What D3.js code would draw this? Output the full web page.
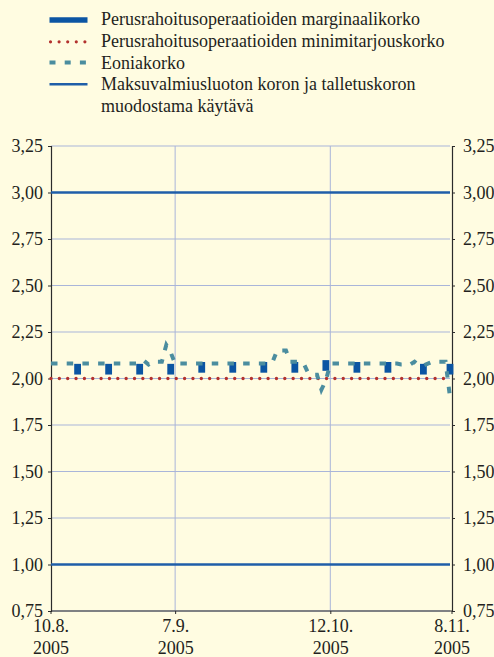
<!DOCTYPE html>
<html>
<head>
<meta charset="utf-8">
<script src="https://cdn.jsdelivr.net/npm/d3@7"></script>
<style>
  html, body { margin: 0; padding: 0; background: #fffce1; }
  svg { display: block; }
</style>
</head>
<body>
<svg id="chart" width="494" height="657"></svg>
<script>
// ---------------- DATA ----------------
const legendLabels = [
  "Perusrahoitusoperaatioiden marginaalikorko",
  "Perusrahoitusoperaatioiden minimitarjouskorko",
  "Eoniakorko",
  "Maksuvalmiusluoton koron ja talletuskoron",
  "muodostama käytävä"
];
const startDate = "2005-08-10";
const endDate = "2005-11-08";
const xTickDates = ["2005-08-10", "2005-09-07", "2005-10-12", "2005-11-08"];
const xTickLabels = [["10.8.", "2005"], ["7.9.", "2005"], ["12.10.", "2005"], ["8.11.", "2005"]];
const yTicks = [0.75, 1.00, 1.25, 1.50, 1.75, 2.00, 2.25, 2.50, 2.75, 3.00, 3.25];

// Main refinancing operations: marginal rate (weekly)
const mroDates = ["2005-08-16", "2005-08-23", "2005-08-30", "2005-09-06", "2005-09-13", "2005-09-20",
  "2005-09-27", "2005-10-04", "2005-10-11", "2005-10-18", "2005-10-25", "2005-11-02", "2005-11-08"];
const mroMarginal = [2.05, 2.05, 2.05, 2.05, 2.06, 2.06, 2.06, 2.06, 2.07, 2.06, 2.06, 2.05, 2.05];

// Minimum bid rate and corridor (marginal lending / deposit facility)
const rateDates = ["2005-08-10", "2005-11-08"];
const minBidRate = [2.00, 2.00];
const marginalLendingRate = [3.00, 3.00];
const depositRate = [1.00, 1.00];

// Eonia, one value per calendar day from 10.8.2005 to 8.11.2005
const eoniaAug = [2.08, 2.08, 2.08, 2.08, 2.08, 2.08, 2.08, 2.08, 2.08, 2.08, 2.08,
  2.08, 2.08, 2.08, 2.08, 2.08, 2.08, 2.08, 2.08, 2.08, 2.08, 2.095];            // 10.8.-31.8.
const eoniaSep = [2.075, 2.09, 2.09, 2.09, 2.18, 2.14, 2.08, 2.08, 2.08, 2.08,
  2.08, 2.08, 2.08, 2.08, 2.08, 2.08, 2.08, 2.08, 2.08, 2.08,
  2.08, 2.08, 2.08, 2.08, 2.08, 2.08, 2.08, 2.08, 2.09, 2.15];                   // 1.9.-30.9.
const eoniaOct = [2.15, 2.15, 2.09, 2.09, 2.09, 2.08, 2.03, 2.02, 2.02, 1.94,
  1.99, 2.08, 2.08, 2.08, 2.08, 2.08, 2.08, 2.08, 2.08, 2.08,
  2.08, 2.08, 2.08, 2.08, 2.08, 2.08, 2.08, 2.075, 2.075, 2.075, 2.09];           // 1.10.-31.10.
const eoniaNov = [2.07, 2.07, 2.08, 2.09, 2.09, 2.09, 2.09, 1.90];                // 1.11.-8.11.

// ---------------- CHART ----------------
const FONT = '"Liberation Serif", "Times New Roman", serif';
const TXT = "#231f20";
const parse = d3.timeParse("%Y-%m-%d");
const svg = d3.select("#chart");
svg.append("rect").attr("width", 494).attr("height", 657).attr("fill", "#fffce1");

const plotLeft = 51, plotRight = 452, plotTop = 146, plotBottom = 611;
const x = d3.scaleTime().domain([parse(startDate), parse(endDate)]).range([51, 450]);
const y = d3.scaleLinear().domain([0.75, 3.25]).range([plotBottom, plotTop]);

const colBlue = "#0b55a3";
const colCorr = "#1f5ea8";
const colRed = "#b3322e";
const colEonia = "#4b8d9f";
const colGrid = "#a9b5d9";

function styleText(sel) {
  sel.style("font-family", FONT).style("font-size", "18px").style("fill", TXT);
}

// horizontal gridlines
svg.append("g").selectAll("line").data(yTicks).join("line")
  .attr("x1", plotLeft).attr("x2", 450)
  .attr("y1", d => y(d)).attr("y2", d => y(d))
  .attr("stroke", colGrid).attr("stroke-width", 1);

// vertical gridlines
svg.append("g").selectAll("line").data(xTickDates.slice(1, 3)).join("line")
  .attr("x1", d => x(parse(d))).attr("x2", d => x(parse(d)))
  .attr("y1", plotTop).attr("y2", plotBottom)
  .attr("stroke", colGrid).attr("stroke-width", 1);

// axes
const fmt = d => d3.format(".2f")(d).replace(".", ",");
const yLeft = d3.axisLeft(y).tickValues(yTicks).tickSize(3).tickFormat(fmt);
const yRight = d3.axisRight(y).tickValues(yTicks).tickSize(3).tickFormat(fmt);
const gl = svg.append("g").attr("transform", `translate(${plotLeft},0)`).call(yLeft);
const gr = svg.append("g").attr("transform", `translate(${plotRight},0)`).call(yRight);
[gl, gr].forEach(g => {
  g.select(".domain").attr("stroke", "#2b2b2b").attr("stroke-width", 1.2);
  g.selectAll(".tick line").attr("stroke", "#2b2b2b");
  g.selectAll(".tick text").call(styleText).attr("dy", "0.33em");
});
gl.selectAll(".tick text").attr("x", -8);
gr.selectAll(".tick text").attr("x", 11);

const xAxis = d3.axisBottom(x).tickValues(xTickDates.map(parse)).tickSize(3).tickFormat("");
const gx = svg.append("g").attr("transform", `translate(0,${plotBottom})`).call(xAxis);
gx.select(".domain").attr("stroke", "#2b2b2b").attr("stroke-width", 1.2).attr("d", `M${plotLeft},0H${plotRight}`);
gx.selectAll(".tick line").attr("stroke", "#2b2b2b");
gx.selectAll(".tick").each(function(d, i) {
  const t = d3.select(this);
  if (i === xTickDates.length - 1) t.attr("transform", `translate(${plotRight},0)`);
  if (i === 0) t.attr("transform", `translate(${plotLeft},0)`);
  const lbl = xTickLabels[i];
  t.append("text").attr("y", 21).attr("text-anchor", "middle").call(styleText).text(lbl[0]);
  t.append("text").attr("y", 43).attr("text-anchor", "middle").call(styleText).text(lbl[1]);
});

// corridor lines
const line = d3.line().x(d => x(d[0])).y(d => y(d[1]));
const rd = rateDates.map(parse);
svg.append("path").datum(rd.map((d, i) => [d, marginalLendingRate[i]]))
  .attr("d", line).attr("fill", "none").attr("stroke", colCorr).attr("stroke-width", 2.6);
svg.append("path").datum(rd.map((d, i) => [d, depositRate[i]]))
  .attr("d", line).attr("fill", "none").attr("stroke", colCorr).attr("stroke-width", 2.6);

// minimum bid rate (dotted red)
svg.append("path").datum(rd.map((d, i) => [d, minBidRate[i]]))
  .attr("d", line).attr("fill", "none").attr("stroke", colRed).attr("stroke-width", 3.4)
  .attr("stroke-linecap", "round").attr("stroke-dasharray", "0,8.35");

// marginal rate markers
const barW = 6.8, barH = 10.7;
svg.append("g").selectAll("rect").data(mroDates.map((d, i) => [parse(d), mroMarginal[i]])).join("rect")
  .attr("x", d => x(d[0]) - barW / 2).attr("width", barW)
  .attr("y", d => y(d[1]) - barH / 2).attr("height", barH)
  .attr("fill", colBlue);

// Eonia dashed line
const eoniaVals = eoniaAug.concat(eoniaSep, eoniaOct, eoniaNov);
const eoniaData = eoniaVals.map((v, i) => [d3.timeDay.offset(parse(startDate), i), v]);
svg.append("path").datum(eoniaData)
  .attr("d", line).attr("fill", "none").attr("stroke", colEonia).attr("stroke-width", 4)
  .attr("stroke-dasharray", "6.5,9.2");

// ---------------- LEGEND ----------------
const lg = svg.append("g");
const symX1 = 49.5, symX2 = 87.5, textX = 101;
lg.append("line").attr("x1", symX1).attr("x2", symX2).attr("y1", 20).attr("y2", 20)
  .attr("stroke", colBlue).attr("stroke-width", 5.3);
lg.append("line").attr("x1", 50.5).attr("x2", 86).attr("y1", 41.8).attr("y2", 41.8)
  .attr("stroke", colRed).attr("stroke-width", 3.2).attr("stroke-linecap", "round").attr("stroke-dasharray", "0,8.6");
lg.append("line").attr("x1", symX1).attr("x2", symX2).attr("y1", 62.5).attr("y2", 62.5)
  .attr("stroke", colEonia).attr("stroke-width", 4).attr("stroke-dasharray", "6,9.2");
lg.append("line").attr("x1", symX1).attr("x2", symX2).attr("y1", 84.3).attr("y2", 84.3)
  .attr("stroke", colCorr).attr("stroke-width", 2.6);

const legendBaselines = [25, 47, 68.5, 89.8, 111.5];
lg.selectAll("text").data(legendLabels).join("text")
  .attr("x", textX).attr("y", (d, i) => legendBaselines[i])
  .call(styleText).text(d => d);
</script>
</body>
</html>
